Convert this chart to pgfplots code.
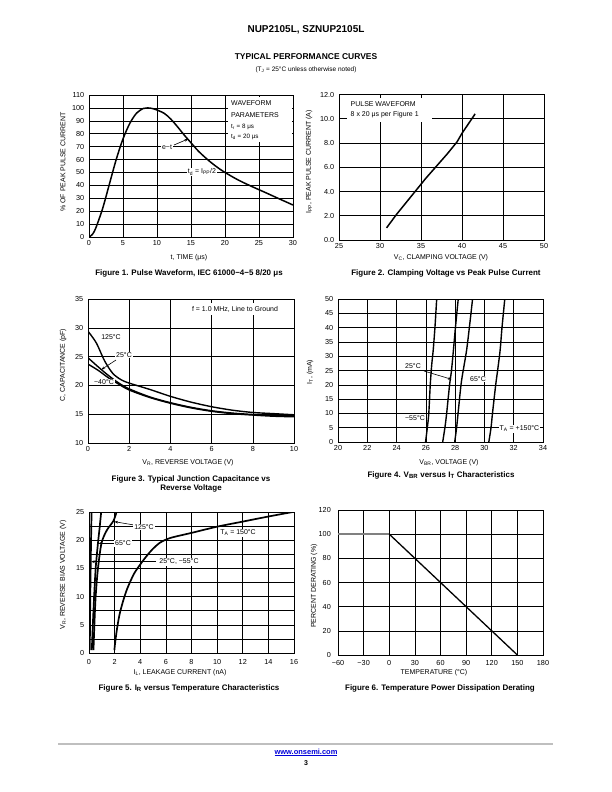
\documentclass[border=0pt]{standalone}
\usepackage{pgfplots}
\pgfplotsset{compat=1.18}
\usepackage{fontspec}
\setmainfont{Liberation Sans}
\usetikzlibrary{arrows.meta}
\newcommand{\tk}{\fontsize{7.3}{8}\selectfont}
\newcommand{\ax}{\fontsize{7}{8}\selectfont}
\newcommand{\capf}{\bfseries\fontsize{8}{9.5}\selectfont}
\newcommand{\an}{\fontsize{7}{8}\selectfont}
\newcommand{\ans}{\fontsize{6.3}{7}\selectfont}
\pgfplotsset{
  ds/.style={
    scale only axis,
    anchor=south west,
    axis line style={line width=1pt},
    grid=major,
    major grid style={black, line width=0.55pt},
    minor grid style={black, line width=0.55pt},
    major tick length=0pt,
    minor tick length=0pt,
    tick label style={font=\tk},
    yticklabel style={xshift=-1.2pt},
    /pgf/number format/assume math mode=true,
  },
  cv/.style={black, line width=1.5pt},
}
\tikzset{lb/.style={fill=white, inner sep=0.8pt, font=\an},
  ar/.style={line width=0.6pt, -{Stealth[length=3.5pt,width=2.8pt]}}}
\begin{document}
\begin{tikzpicture}
\fill[white] (0,0) rectangle (612bp,-792bp);
\useasboundingbox (0,0) rectangle (612bp,-792bp);

% Figure 1
\begin{axis}[ds, at={(89bp,-237bp)}, width=204bp, height=142bp,
  xmin=0, xmax=30, ymin=0, ymax=110, xtick={0,5,...,30}, ytick={0,10,...,110}]
\addplot[cv, smooth] coordinates {
(0,0) (0.5,2) (1,7) (2,22) (3,41) (4,60) (5,76) (6,88) (7,96) (8,99.6) (8.6,100)
(9.5,99.3) (11,96) (12,91.5) (13,85.5) (14,79) (15,73) (16,67) (17,62) (18,57.5)
(19,53.5) (20,50) (22,44) (24,39) (26,34.3) (28,29.5) (30,24.8)};
\end{axis}

% Figure 2
\begin{axis}[ds, at={(339bp,-240bp)}, width=205bp, height=145.5bp,
  xmin=25, xmax=50, ymin=0, ymax=12, xtick={25,30,...,50}, ytick={0,2,...,12},
  yticklabel style={/pgf/number format/.cd, fixed, fixed zerofill, precision=1}]
\addplot[cv] coordinates {
(30.8,1.0) (32.0,2.1) (33.2,3.1) (34.4,4.1) (35.6,5.1) (36.9,6.1) (38.2,7.1)
(39.4,8.1) (40.0,8.8) (40.8,9.6) (41.6,10.4)};
\end{axis}

% Figure 3
\begin{axis}[ds, at={(88bp,-443bp)}, width=206bp, height=144bp,
  xmin=0, xmax=10, ymin=10, ymax=35, xtick={0,2,...,10}, ytick={10,15,...,35}]
\addplot[cv, line width=1.4pt, smooth] coordinates {
(0,29.4) (0.4,27.4) (0.8,24.3) (1.2,22.1) (1.6,21.0) (2,20.4) (3,19.3) (4,18.1)
(5,17.1) (6,16.3) (7,15.7) (8,15.3) (9,15.1) (10,14.9)};
\addplot[cv, line width=1.4pt, smooth] coordinates {
(0,24.8) (0.5,23.2) (1,21.7) (1.5,20.4) (2,19.4) (3,18.0) (4,17.0) (5,16.2)
(6,15.6) (7,15.2) (8,14.95) (9,14.8) (10,14.7)};
\addplot[cv, line width=1.4pt, smooth] coordinates {
(0,23.7) (0.5,22.6) (1,21.3) (1.5,20.2) (2,19.2) (3,17.9) (4,16.9) (5,16.1)
(6,15.5) (7,15.1) (8,14.85) (9,14.65) (10,14.55)};
\end{axis}

% Figure 4
\begin{axis}[ds, at={(338bp,-442bp)}, width=205bp, height=143bp,
  xmin=20, xmax=34, ymin=0, ymax=50, xtick={20,22,...,34}, ytick={0,5,...,50}]
\addplot[cv, line width=1.4pt, smooth] coordinates {
(25.98,0) (26.1,5) (26.2,10) (26.3,20) (26.4,27) (26.5,32) (26.62,40) (26.74,50)};
\addplot[cv, line width=1.4pt, smooth] coordinates {
(27.15,0) (27.3,5) (27.42,10) (27.62,20) (27.75,25) (27.88,32) (28.02,40) (28.21,50)};
\addplot[cv, line width=1.4pt, smooth] coordinates {
(27.97,0) (28.1,5) (28.2,10) (28.4,20) (28.55,25) (28.78,32) (28.97,40) (29.19,50)};
\addplot[cv, line width=1.4pt, smooth] coordinates {
(30.3,0) (30.45,5) (30.55,10) (30.77,20) (30.9,25) (31.07,32) (31.2,40) (31.39,50)};
\end{axis}

% Figure 5
\begin{axis}[ds, at={(89bp,-653bp)}, width=205bp, height=141bp, grid=both,
  xmin=0, xmax=16, ymin=0, ymax=25, xtick={0,2,...,16}, ytick={0,5,...,25},
  minor ytick={2.5,7.5,...,22.5}, xticklabel style={yshift=-2.5pt}]
\addplot[cv, line width=1.7pt] coordinates {
(0.06,0.5) (0.1,10) (0.16,20) (0.2,25)};
\addplot[cv, line width=1.7pt, smooth] coordinates {
(0.22,0.5) (0.3,5) (0.4,10) (0.52,15) (0.7,19.5) (0.82,22) (0.95,25)};
\addplot[cv, line width=1.7pt, smooth] coordinates {
(0.35,0.5) (0.42,5) (0.52,10) (0.7,15) (0.98,19.5) (1.4,21.8) (1.9,23.4) (2.15,25)};
\addplot[cv, line width=1.7pt, smooth] coordinates {
(1.98,0.5) (2.05,2) (2.2,4.5) (2.4,7) (2.7,9.5) (3.0,11.5) (3.5,14) (4.0,15.7)
(4.5,17.2) (5.0,18.5) (5.5,19.5) (5.9,20.0) (6.5,20.5) (8,21.3) (10,22.4)
(12,23.3) (14,24.2) (15.9,25)};
\end{axis}

% Figure 6
\begin{axis}[ds, at={(338bp,-655bp)}, width=205bp, height=145bp,
  xmin=-60, xmax=180, ymin=0, ymax=120, xtick={-60,-30,...,180},
  xticklabels={−60,−30,0,30,60,90,120,150,180}, ytick={0,20,...,120},
  xticklabel style={yshift=-1.5pt}, yticklabel style={xshift=-2.5pt}]
\addplot[gray, line width=1.5pt] coordinates {(-60,100) (0,100)};
\addplot[cv, line width=1.3pt] coordinates {(0,100) (150,0)};
\end{axis}

\begin{scope}[x=1bp, y=-1bp]
% header
\node[font=\bfseries\fontsize{10}{12}\selectfont] at (306,30) {NUP2105L, SZNUP2105L};
\node[font=\bfseries\fontsize{8.5}{10}\selectfont] at (306,57) {TYPICAL PERFORMANCE CURVES};
\node[font=\fontsize{6.5}{8}\selectfont] at (306,70) {(T\textsubscript{J} = 25°C unless otherwise noted)};

% fig 1 texts
\node[rotate=90, font=\ax] at (63,162) {\% OF PEAK PULSE CURRENT};
\node[font=\ax] at (189,258) {t, TIME (μs)};
\node[font=\capf] at (189,273) {Figure 1. Pulse Waveform, IEC 61000−4−5 8/20 μs};
\fill[white] (228,97) rectangle (292.4,142);
\node[font=\an, anchor=west, inner sep=0pt] at (231,103.3) {WAVEFORM};
\node[font=\an, anchor=west, inner sep=0pt] at (231,115) {PARAMETERS};
\node[font=\ans, anchor=west, inner sep=0pt] at (231,127) {t\textsubscript{r} = 8 μs};
\node[font=\ans, anchor=west, inner sep=0pt] at (231,136.7) {t\textsubscript{d} = 20 μs};
\node[lb] at (167,147) {e−t};
\draw[ar] (174,145) -- (188,139);
\node[lb] at (202,172) {t\textsubscript{d} = I\textsubscript{PP}/2};

% fig 2 texts
\node[rotate=90, font=\ax] at (309,162) {I\textsubscript{PP}, PEAK PULSE CURRENT (A)};
\node[font=\ax] at (441,258) {V\textsubscript{C}, CLAMPING VOLTAGE (V)};
\node[font=\capf] at (446,273) {Figure 2. Clamping Voltage vs Peak Pulse Current};
\fill[white] (347,98) rectangle (432,122);
\node[font=\an, anchor=west, inner sep=0pt] at (350.5,104) {PULSE WAVEFORM};
\node[font=\an, anchor=west, inner sep=0pt] at (350.5,115) {8 x 20 μs per Figure 1};

% fig 3 texts
\node[rotate=90, font=\ax] at (63,365) {C, CAPACITANCE (pF)};
\node[font=\ax] at (188,463) {V\textsubscript{R}, REVERSE VOLTAGE (V)};
\node[font=\capf, align=center] at (191,484) {Figure 3. Typical Junction Capacitance vs\\Reverse Voltage};
\fill[white] (180,303) rectangle (292.5,315);
\node[font=\an] at (235,309) {f = 1.0 MHz, Line to Ground};
\node[lb] at (111,337) {125°C};
\node[lb] at (124,355) {25°C};
\draw[ar] (116,360) -- (101.5,369.5);
\node[lb] at (104,382) {−40°C};

% fig 4 texts
\node[rotate=90, font=\ax] at (310,372) {I\textsubscript{T}, (mA)};
\node[font=\ax] at (449,463) {V\textsubscript{BR}, VOLTAGE (V)};
\node[font=\capf] at (441,475) {Figure 4. V\textsubscript{BR} versus I\textsubscript{T} Characteristics};
\node[lb] at (413,366) {25°C};
\draw[ar] (424,371) -- (451.5,379.3);
\node[lb] at (478,379) {65°C};
\node[lb] at (415,418) {−55°C};
\node[lb] at (519.5,429) {T\textsubscript{A} = +150°C};

% fig 5 texts
\node[rotate=90, font=\ax] at (63,575) {V\textsubscript{R}, REVERSE BIAS VOLTAGE (V)};
\node[font=\ax] at (180,673) {I\textsubscript{L}, LEAKAGE CURRENT (nA)};
\node[font=\capf] at (189,688) {Figure 5. I\textsubscript{R} versus Temperature Characteristics};
\draw[ar] (134,525) -- (114.5,521.7);
\node[lb] at (144,527) {125°C};
\draw[ar] (114,543.3) -- (98.5,543.3);
\node[lb] at (123,543.3) {65°C};
\draw[ar] (156,561.7) -- (91.3,561.7);
\node[lb] at (179,562) {25°C, −55°C};
\node[lb] at (238,533) {T\textsubscript{A} = 150°C};

% fig 6 texts
\node[rotate=90, font=\ax] at (314,586) {PERCENT DERATING (\%)};
\node[font=\ax] at (434,673) {TEMPERATURE (°C)};
\node[font=\capf] at (440,688) {Figure 6. Temperature Power Dissipation Derating};

% footer
\draw[gray!50, line width=2pt] (58,744) -- (553,744);
\node[font=\bfseries\fontsize{7.5}{9}\selectfont, text=blue!85!black] at (306,752.5) {\underline{www.onsemi.com}};
\node[font=\bfseries\fontsize{7}{8}\selectfont] at (306,763) {3};
\end{scope}
\end{tikzpicture}
\end{document}
